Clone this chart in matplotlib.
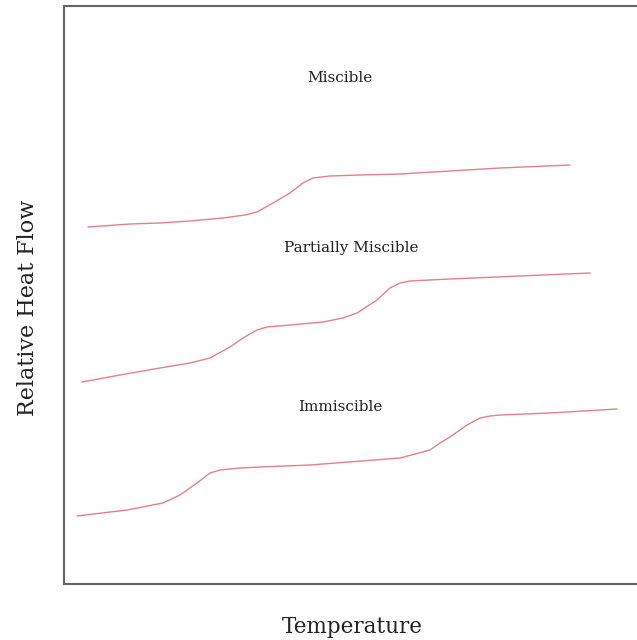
import matplotlib.pyplot as plt

# curves (arbitrary units)
miscible_t = [24, 66, 96, 126, 159, 181, 193, 209, 226, 239, 249, 266, 296, 336, 386, 436, 506]
miscible_q = [357, 360, 361, 363, 366, 369, 372, 381, 391, 401, 406, 408, 409, 410, 413, 416, 419]

partial_t = [18, 56, 96, 126, 146, 166, 179, 193, 203, 226, 259, 279, 293, 313, 326, 336, 346, 386, 456, 526]
partial_q = [202, 209, 216, 221, 226, 237, 246, 254, 257, 259, 262, 266, 271, 284, 296, 301, 303, 305, 308, 311]

immiscible_t = [13, 63, 99, 116, 133, 146, 156, 176, 196, 246, 336, 366, 376, 386, 403, 416, 426, 436, 486, 553]
immiscible_q = [68, 74, 81, 89, 101, 111, 114, 116, 117, 119, 126, 134, 141, 147, 159, 166, 168, 169, 171, 175]

labels = ["Miscible", "Partially Miscible", "Immiscible"]

fig = plt.figure(figsize=(6.37, 6.40), dpi=100)
ax = fig.add_axes([64 / 637, 56 / 640, 580 / 637, 578 / 640])

line_color = "#e67f8a"
for t, q in [(miscible_t, miscible_q), (partial_t, partial_q), (immiscible_t, immiscible_q)]:
    ax.plot(t, q, color=line_color, lw=1.0, solid_joinstyle="round", solid_capstyle="round")

ax.set_xlim(0, 580)
ax.set_ylim(0, 578)
ax.set_xticks([])
ax.set_yticks([])
for s in ax.spines.values():
    s.set_color("#666666")
    s.set_linewidth(1.5)
ax.spines["right"].set_visible(False)

font = "DejaVu Serif"
ax.text(276, 506, labels[0], ha="center", va="center", fontsize=11, family=font, color="#222222")
ax.text(287, 336, labels[1], ha="center", va="center", fontsize=11, family=font, color="#222222")
ax.text(276, 177, labels[2], ha="center", va="center", fontsize=11, family=font, color="#222222")

fig.text(352 / 637, 1 - 627 / 640, "Temperature", ha="center", va="center", fontsize=15.5, family=font, color="#222222")
fig.text(28 / 637, 1 - 308 / 640, "Relative Heat Flow", ha="center", va="center", rotation=90,
         fontsize=16, family=font, color="#222222")

plt.savefig("out.png", dpi=100)
